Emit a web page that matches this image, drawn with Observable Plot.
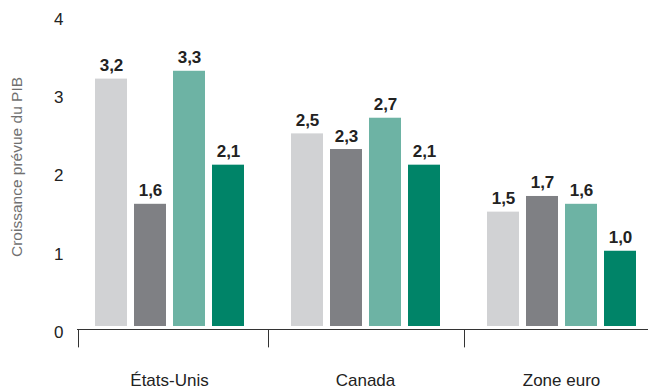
<!DOCTYPE html>
<html>
<head>
<meta charset="utf-8">
<script src="https://cdn.jsdelivr.net/npm/d3@7"></script>
<script src="https://cdn.jsdelivr.net/npm/@observablehq/plot@0.6"></script>
<style>
  html, body { margin: 0; padding: 0; background: #ffffff; }
</style>
</head>
<body>
<div id="chart"></div>
<script>
const countries = ["États-Unis", "Canada", "Zone euro"];
const series = ["Série 1", "Série 2", "Série 3", "Série 4"];
const valuesEtatsUnis = [3.2, 1.6, 3.3, 2.1];
const valuesCanada = [2.5, 2.3, 2.7, 2.1];
const valuesZoneEuro = [1.5, 1.7, 1.6, 1.0];
const yTicks = [0, 1, 2, 3, 4];
const yTitle = "Croissance prévue du PIB";
const colors = ["#d1d2d4", "#7f8084", "#6db3a4", "#008468"];

const valuesByCountry = [valuesEtatsUnis, valuesCanada, valuesZoneEuro];
const data = countries.flatMap((c, i) =>
  valuesByCountry[i].map((v, j) => ({country: c, series: series[j], value: v}))
);
const fmt = v => v.toFixed(1).replace(".", ",");

const chart = Plot.plot({
  width: 648,
  height: 389,
  marginTop: 16,
  marginBottom: 60,
  marginLeft: 71,
  marginRight: -11,
  style: {fontFamily: "'Liberation Sans', Arial, Helvetica, sans-serif", fontSize: "17px", color: "#222", background: "#ffffff"},
  fx: {domain: countries, paddingInner: 0, paddingOuter: 0, label: null},
  x: {domain: series, paddingInner: 0.186, paddingOuter: 0.585, axis: null},
  y: {domain: [0, 4], label: null},
  color: {domain: series, range: colors},
  marks: [
    Plot.barY(data, {fx: "country", x: "series", y: "value", fill: "series", insetBottom: 3}),
    Plot.text(data, {fx: "country", x: "series", y: "value", text: d => fmt(d.value), dy: -8, lineAnchor: "bottom", fontWeight: "bold", fontSize: 17, fill: "#222"}),
    Plot.ruleY(countries.slice(0, 1), {fx: d => d, y: () => 0, insetLeft: 6, stroke: "#333"}),
    Plot.ruleY(countries.slice(1), {fx: d => d, y: () => 0, stroke: "#333"}),
    Plot.ruleX(countries.slice(0, 1), {fx: d => d, x: () => series[0], y1: () => 0, y2: () => -0.235, dx: -33, stroke: "#333"}),
    Plot.ruleX(countries.slice(1), {fx: d => d, x: () => series[0], y1: () => 0, y2: () => -0.235, dx: -39, stroke: "#333"}),
    Plot.axisFx({anchor: "bottom", tickSize: 0, tickPadding: 44, fontSize: 17, fill: "#222", label: null}),
    Plot.axisY({anchor: "left", ticks: yTicks, tickFormat: d => String(d), tickSize: 0, tickPadding: 8, dy: 3, fontSize: 17, fill: "#222", label: null}),
    Plot.text([yTitle], {fx: () => countries[0], frameAnchor: "left", rotate: -90, dx: -54, dy: -6, text: d => d, fontSize: 15.5, fill: "#707070", textAnchor: "middle"})
  ]
});
document.getElementById("chart").appendChild(chart);
</script>
</body>
</html>
